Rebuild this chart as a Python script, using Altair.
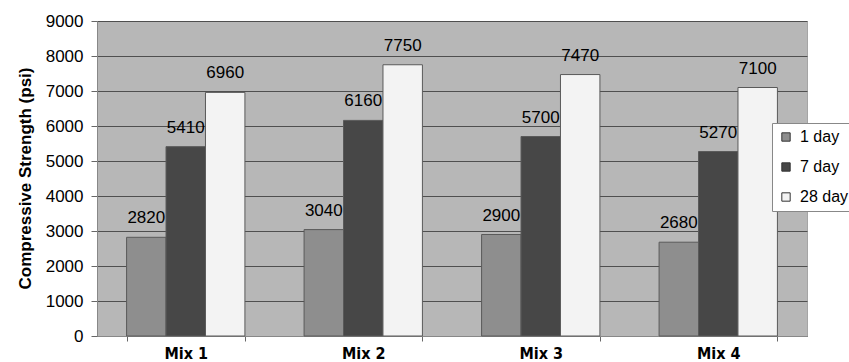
import altair as alt
import pandas as pd

mixes = ["Mix 1", "Mix 2", "Mix 3", "Mix 4"]
ages = ["1 day", "7 day", "28 day"]
day1 = [2820, 3040, 2900, 2680]
day7 = [5410, 6160, 5700, 5270]
day28 = [6960, 7750, 7470, 7100]
y_ticks = [0, 1000, 2000, 3000, 4000, 5000, 6000, 7000, 8000, 9000]
colors = ["#8e8e8e", "#474747", "#f3f3f3"]

rows = []
for i, m in enumerate(mixes):
    for age, series in zip(ages, [day1, day7, day28]):
        rows.append({"mix": m, "age": age, "value": series[i]})
df = pd.DataFrame(rows)

base = alt.Chart(df).encode(
    x=alt.X(
        "mix:N",
        sort=mixes,
        title=None,
        scale=alt.Scale(paddingInner=1 / 3, paddingOuter=1 / 6),
        axis=alt.Axis(
            labelAngle=0,
            labelFont="DejaVu Sans Condensed",
            labelFontWeight="bold",
            labelFontSize=16,
            labelColor="#000000",
            labelPadding=4,
            tickBand="extent",
            tickSize=5,
            tickColor="#666666",
            domainColor="#888888",
            grid=False,
        ),
    ),
    xOffset=alt.XOffset("age:N", sort=ages, scale=alt.Scale(paddingInner=0, paddingOuter=0)),
    y=alt.Y(
        "value:Q",
        scale=alt.Scale(domain=[0, 9000], nice=False),
        axis=alt.Axis(
            title="Compressive Strength (psi)",
            titleFont="Liberation Sans",
            titleFontSize=17,
            titleFontWeight="bold",
            titleColor="#000000",
            titleX=-72,
            titleY=157,
            titleAngle=270,
            titleAlign="center",
            titleBaseline="middle",
            values=y_ticks,
            format="d",
            labelFont="Liberation Sans",
            labelFontSize=17,
            labelColor="#000000",
            labelPadding=8,
            tickSize=6,
            tickColor="#666666",
            domainColor="#888888",
            grid=True,
            gridColor="#4f4f4f",
            gridWidth=1,
        ),
    ),
)

bars = base.mark_bar(stroke="#5a5a5a", strokeWidth=1).encode(
    color=alt.Color(
        "age:N",
        sort=ages,
        title=None,
        scale=alt.Scale(domain=ages, range=colors),
        legend=alt.Legend(
            orient="none",
            legendX=675,
            legendY=102,
            fillColor="#ffffff",
            strokeColor="#888888",
            padding=6,
            labelFont="Liberation Sans",
            labelFontSize=16,
            labelColor="#000000",
            labelOffset=6,
            symbolType="square",
            symbolSize=70,
            symbolStrokeColor="#333333",
            symbolStrokeWidth=1,
            rowPadding=14,
        ),
    )
)

labels = base.mark_text(
    dy=-14, baseline="alphabetic", align="center", fontSize=17, font="Liberation Sans", color="#000000"
).encode(text=alt.Text("value:Q", format="d"))

chart = (
    alt.layer(bars, labels)
    .properties(
        width=710,
        height=315,
        background="#ffffff",
        autosize=alt.AutoSizeParams(type="none"),
        padding={"left": 97, "top": 21, "right": 42, "bottom": 26},
    )
    .configure_view(fill="#b7b7b7", stroke="#a5a5a5")
)

chart.save("out.html", embed_options={"renderer": "svg", "actions": False})
